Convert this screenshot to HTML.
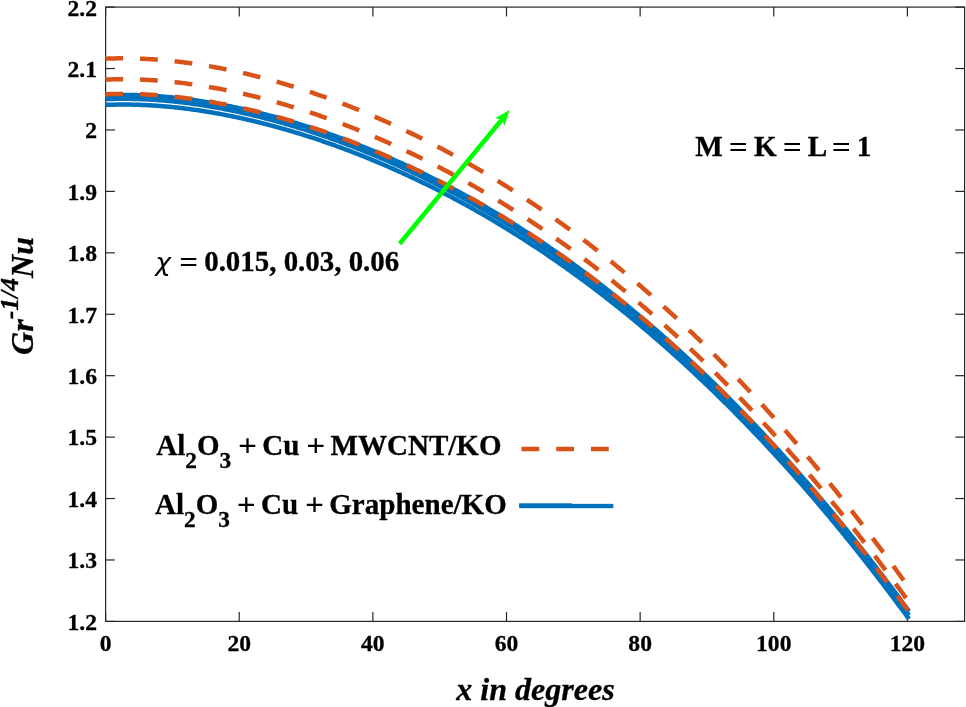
<!DOCTYPE html>
<html><head><meta charset="utf-8"><title>Figure</title>
<style>
html,body{margin:0;padding:0;background:#fff;}
svg{display:block;}
text{font-family:"Liberation Serif",serif;font-weight:bold;fill:#000;stroke:#000;stroke-width:0.3px;}
.tk{font-size:23.6px;}
.lb{font-size:29.17px;}
.ax{font-size:32.1px;font-style:italic;}
.op{fill:none;stroke:none;}
</style></head><body>
<svg width="966" height="707" viewBox="0 0 966 707">
<rect x="0" y="0" width="966" height="707" fill="#ffffff"/>

<g stroke="#262626" stroke-width="1.2" fill="none" shape-rendering="auto">
<rect x="105.6" y="7.1" width="859.0" height="614.3"/>
<line x1="105.60" y1="621.4" x2="105.60" y2="612.1"/>
<line x1="105.60" y1="7.1" x2="105.60" y2="16.4"/>
<line x1="239.23" y1="621.4" x2="239.23" y2="612.1"/>
<line x1="239.23" y1="7.1" x2="239.23" y2="16.4"/>
<line x1="372.87" y1="621.4" x2="372.87" y2="612.1"/>
<line x1="372.87" y1="7.1" x2="372.87" y2="16.4"/>
<line x1="506.50" y1="621.4" x2="506.50" y2="612.1"/>
<line x1="506.50" y1="7.1" x2="506.50" y2="16.4"/>
<line x1="640.14" y1="621.4" x2="640.14" y2="612.1"/>
<line x1="640.14" y1="7.1" x2="640.14" y2="16.4"/>
<line x1="773.77" y1="621.4" x2="773.77" y2="612.1"/>
<line x1="773.77" y1="7.1" x2="773.77" y2="16.4"/>
<line x1="907.40" y1="621.4" x2="907.40" y2="612.1"/>
<line x1="907.40" y1="7.1" x2="907.40" y2="16.4"/>
<line x1="105.6" y1="7.10" x2="114.89999999999999" y2="7.10"/>
<line x1="964.6" y1="7.10" x2="955.3000000000001" y2="7.10"/>
<line x1="105.6" y1="68.53" x2="114.89999999999999" y2="68.53"/>
<line x1="964.6" y1="68.53" x2="955.3000000000001" y2="68.53"/>
<line x1="105.6" y1="129.96" x2="114.89999999999999" y2="129.96"/>
<line x1="964.6" y1="129.96" x2="955.3000000000001" y2="129.96"/>
<line x1="105.6" y1="191.39" x2="114.89999999999999" y2="191.39"/>
<line x1="964.6" y1="191.39" x2="955.3000000000001" y2="191.39"/>
<line x1="105.6" y1="252.82" x2="114.89999999999999" y2="252.82"/>
<line x1="964.6" y1="252.82" x2="955.3000000000001" y2="252.82"/>
<line x1="105.6" y1="314.25" x2="114.89999999999999" y2="314.25"/>
<line x1="964.6" y1="314.25" x2="955.3000000000001" y2="314.25"/>
<line x1="105.6" y1="375.68" x2="114.89999999999999" y2="375.68"/>
<line x1="964.6" y1="375.68" x2="955.3000000000001" y2="375.68"/>
<line x1="105.6" y1="437.11" x2="114.89999999999999" y2="437.11"/>
<line x1="964.6" y1="437.11" x2="955.3000000000001" y2="437.11"/>
<line x1="105.6" y1="498.54" x2="114.89999999999999" y2="498.54"/>
<line x1="964.6" y1="498.54" x2="955.3000000000001" y2="498.54"/>
<line x1="105.6" y1="559.97" x2="114.89999999999999" y2="559.97"/>
<line x1="964.6" y1="559.97" x2="955.3000000000001" y2="559.97"/>
<line x1="105.6" y1="621.40" x2="114.89999999999999" y2="621.40"/>
<line x1="964.6" y1="621.40" x2="955.3000000000001" y2="621.40"/>
</g>
<g fill="none" stroke-linecap="butt" stroke-linejoin="round">
<path d="M105.30,104.93 L106.80,104.87 L108.30,104.81 L109.80,104.76 L111.30,104.72 L112.80,104.68 L114.30,104.64 L115.80,104.61 L117.30,104.59 L118.80,104.57 L120.30,104.56 L121.80,104.55 L123.30,104.54 L124.80,104.54 L126.30,104.55 L127.80,104.56 L129.30,104.58 L130.80,104.60 L132.30,104.63 L133.80,104.66 L135.30,104.70 L136.80,104.74 L138.30,104.78 L139.80,104.83 L141.30,104.89 L142.80,104.95 L144.30,105.02 L145.80,105.09 L147.30,105.16 L148.80,105.24 L150.30,105.32 L151.80,105.41 L153.30,105.50 L154.80,105.60 L156.30,105.70 L157.80,105.81 L159.30,105.92 L160.80,106.04 L162.30,106.16 L163.80,106.28 L165.30,106.41 L166.80,106.55 L168.30,106.68 L169.80,106.82 L171.30,106.97 L172.80,107.12 L174.30,107.28 L175.80,107.44 L177.30,107.60 L178.80,107.77 L180.30,107.94 L181.80,108.11 L183.30,108.29 L184.80,108.48 L186.30,108.67 L187.80,108.86 L189.30,109.06 L190.80,109.26 L192.30,109.46 L193.80,109.67 L195.30,109.88 L196.80,110.10 L198.30,110.32 L199.80,110.54 L201.30,110.77 L202.80,111.00 L204.30,111.24 L205.80,111.48 L207.30,111.72 L208.80,111.97 L210.30,112.22 L211.80,112.48 L213.30,112.74 L214.80,113.00 L216.30,113.27 L217.80,113.54 L219.30,113.81 L220.80,114.09 L222.30,114.37 L223.80,114.66 L225.30,114.95 L226.80,115.24 L228.30,115.54 L229.80,115.84 L231.30,116.14 L232.80,116.45 L234.30,116.76 L235.80,117.08 L237.30,117.40 L238.80,117.72 L240.30,118.04 L241.80,118.37 L243.30,118.71 L244.80,119.04 L246.30,119.38 L247.80,119.73 L249.30,120.07 L250.80,120.43 L252.30,120.78 L253.80,121.14 L255.30,121.50 L256.80,121.86 L258.30,122.23 L259.80,122.60 L261.30,122.98 L262.80,123.36 L264.30,123.74 L265.80,124.12 L267.30,124.51 L268.80,124.90 L270.30,125.30 L271.80,125.70 L273.30,126.10 L274.80,126.51 L276.30,126.92 L277.80,127.33 L279.30,127.74 L280.80,128.16 L282.30,128.59 L283.80,129.01 L285.30,129.44 L286.80,129.87 L288.30,130.31 L289.80,130.75 L291.30,131.19 L292.80,131.64 L294.30,132.09 L295.80,132.54 L297.30,132.99 L298.80,133.45 L300.30,133.92 L301.80,134.38 L303.30,134.85 L304.80,135.32 L306.30,135.80 L307.80,136.28 L309.30,136.76 L310.80,137.25 L312.30,137.73 L313.80,138.23 L315.30,138.72 L316.80,139.22 L318.30,139.72 L319.80,140.23 L321.30,140.73 L322.80,141.25 L324.30,141.76 L325.80,142.28 L327.30,142.80 L328.80,143.32 L330.30,143.85 L331.80,144.38 L333.30,144.92 L334.80,145.45 L336.30,146.00 L337.80,146.54 L339.30,147.09 L340.80,147.64 L342.30,148.19 L343.80,148.75 L345.30,149.31 L346.80,149.87 L348.30,150.44 L349.80,151.01 L351.30,151.58 L352.80,152.16 L354.30,152.73 L355.80,153.32 L357.30,153.90 L358.80,154.49 L360.30,155.08 L361.80,155.68 L363.30,156.28 L364.80,156.88 L366.30,157.48 L367.80,158.09 L369.30,158.70 L370.80,159.32 L372.30,159.94 L373.80,160.56 L375.30,161.18 L376.80,161.81 L378.30,162.44 L379.80,163.08 L381.30,163.71 L382.80,164.35 L384.30,165.00 L385.80,165.65 L387.30,166.30 L388.80,166.95 L390.30,167.61 L391.80,168.27 L393.30,168.93 L394.80,169.60 L396.30,170.27 L397.80,170.94 L399.30,171.62 L400.80,172.29 L402.30,172.98 L403.80,173.66 L405.30,174.35 L406.80,175.05 L408.30,175.74 L409.80,176.44 L411.30,177.14 L412.80,177.85 L414.30,178.56 L415.80,179.27 L417.30,179.99 L418.80,180.71 L420.30,181.43 L421.80,182.15 L423.30,182.88 L424.80,183.61 L426.30,184.35 L427.80,185.09 L429.30,185.83 L430.80,186.58 L432.30,187.32 L433.80,188.08 L435.30,188.83 L436.80,189.59 L438.30,190.35 L439.80,191.12 L441.30,191.89 L442.80,192.66 L444.30,193.43 L445.80,194.21 L447.30,194.99 L448.80,195.78 L450.30,196.57 L451.80,197.36 L453.30,198.16 L454.80,198.96 L456.30,199.76 L457.80,200.56 L459.30,201.37 L460.80,202.18 L462.30,203.00 L463.80,203.82 L465.30,204.64 L466.80,205.47 L468.30,206.30 L469.80,207.13 L471.30,207.97 L472.80,208.81 L474.30,209.65 L475.80,210.50 L477.30,211.35 L478.80,212.20 L480.30,213.06 L481.80,213.92 L483.30,214.78 L484.80,215.65 L486.30,216.52 L487.80,217.39 L489.30,218.27 L490.80,219.15 L492.30,220.04 L493.80,220.93 L495.30,221.82 L496.80,222.71 L498.30,223.61 L499.80,224.51 L501.30,225.42 L502.80,226.33 L504.30,227.24 L505.80,228.16 L507.30,229.08 L508.80,230.00 L510.30,230.93 L511.80,231.86 L513.30,232.79 L514.80,233.73 L516.30,234.67 L517.80,235.62 L519.30,236.57 L520.80,237.52 L522.30,238.47 L523.80,239.43 L525.30,240.40 L526.80,241.36 L528.30,242.33 L529.80,243.31 L531.30,244.28 L532.80,245.26 L534.30,246.25 L535.80,247.24 L537.30,248.23 L538.80,249.22 L540.30,250.22 L541.80,251.22 L543.30,252.23 L544.80,253.24 L546.30,254.25 L547.80,255.27 L549.30,256.29 L550.80,257.32 L552.30,258.35 L553.80,259.38 L555.30,260.41 L556.80,261.45 L558.30,262.50 L559.80,263.54 L561.30,264.59 L562.80,265.65 L564.30,266.71 L565.80,267.77 L567.30,268.83 L568.80,269.90 L570.30,270.98 L571.80,272.05 L573.30,273.13 L574.80,274.22 L576.30,275.31 L577.80,276.40 L579.30,277.49 L580.80,278.59 L582.30,279.70 L583.80,280.80 L585.30,281.91 L586.80,283.03 L588.30,284.15 L589.80,285.27 L591.30,286.39 L592.80,287.52 L594.30,288.66 L595.80,289.80 L597.30,290.94 L598.80,292.08 L600.30,293.23 L601.80,294.38 L603.30,295.54 L604.80,296.70 L606.30,297.87 L607.80,299.03 L609.30,300.21 L610.80,301.38 L612.30,302.56 L613.80,303.75 L615.30,304.94 L616.80,306.13 L618.30,307.32 L619.80,308.52 L621.30,309.73 L622.80,310.93 L624.30,312.14 L625.80,313.36 L627.30,314.58 L628.80,315.80 L630.30,317.03 L631.80,318.26 L633.30,319.50 L634.80,320.74 L636.30,321.98 L637.80,323.23 L639.30,324.48 L640.80,325.73 L642.30,326.99 L643.80,328.25 L645.30,329.52 L646.80,330.79 L648.30,332.07 L649.80,333.35 L651.30,334.63 L652.80,335.92 L654.30,337.21 L655.80,338.50 L657.30,339.80 L658.80,341.10 L660.30,342.41 L661.80,343.72 L663.30,345.04 L664.80,346.36 L666.30,347.68 L667.80,349.01 L669.30,350.34 L670.80,351.68 L672.30,353.02 L673.80,354.36 L675.30,355.71 L676.80,357.06 L678.30,358.42 L679.80,359.78 L681.30,361.14 L682.80,362.51 L684.30,363.88 L685.80,365.26 L687.30,366.64 L688.80,368.03 L690.30,369.42 L691.80,370.81 L693.30,372.21 L694.80,373.61 L696.30,375.01 L697.80,376.42 L699.30,377.84 L700.80,379.26 L702.30,380.68 L703.80,382.11 L705.30,383.54 L706.80,384.97 L708.30,386.41 L709.80,387.86 L711.30,389.30 L712.80,390.76 L714.30,392.21 L715.80,393.67 L717.30,395.14 L718.80,396.61 L720.30,398.08 L721.80,399.56 L723.30,401.04 L724.80,402.53 L726.30,404.02 L727.80,405.51 L729.30,407.01 L730.80,408.51 L732.30,410.02 L733.80,411.53 L735.30,413.05 L736.80,414.57 L738.30,416.09 L739.80,417.62 L741.30,419.15 L742.80,420.69 L744.30,422.23 L745.80,423.78 L747.30,425.33 L748.80,426.88 L750.30,428.44 L751.80,430.01 L753.30,431.57 L754.80,433.15 L756.30,434.72 L757.80,436.30 L759.30,437.89 L760.80,439.48 L762.30,441.07 L763.80,442.67 L765.30,444.27 L766.80,445.88 L768.30,447.49 L769.80,449.11 L771.30,450.73 L772.80,452.35 L774.30,453.98 L775.80,455.61 L777.30,457.25 L778.80,458.89 L780.30,460.54 L781.80,462.19 L783.30,463.85 L784.80,465.51 L786.30,467.17 L787.80,468.84 L789.30,470.51 L790.80,472.19 L792.30,473.88 L793.80,475.56 L795.30,477.25 L796.80,478.95 L798.30,480.65 L799.80,482.35 L801.30,484.06 L802.80,485.78 L804.30,487.50 L805.80,489.22 L807.30,490.95 L808.80,492.68 L810.30,494.41 L811.80,496.16 L813.30,497.90 L814.80,499.65 L816.30,501.41 L817.80,503.17 L819.30,504.93 L820.80,506.70 L822.30,508.47 L823.80,510.25 L825.30,512.03 L826.80,513.82 L828.30,515.61 L829.80,517.40 L831.30,519.21 L832.80,521.01 L834.30,522.82 L835.80,524.64 L837.30,526.45 L838.80,528.28 L840.30,530.11 L841.80,531.94 L843.30,533.78 L844.80,535.62 L846.30,537.47 L847.80,539.32 L849.30,541.18 L850.80,543.04 L852.30,544.90 L853.80,546.77 L855.30,548.65 L856.80,550.53 L858.30,552.41 L859.80,554.30 L861.30,556.20 L862.80,558.10 L864.30,560.00 L865.80,561.91 L867.30,563.82 L868.80,565.74 L870.30,567.66 L871.80,569.59 L873.30,571.52 L874.80,573.46 L876.30,575.40 L877.80,577.35 L879.30,579.30 L880.80,581.26 L882.30,583.22 L883.80,585.19 L885.30,587.16 L886.80,589.14 L888.30,591.12 L889.80,593.10 L891.30,595.09 L892.80,597.09 L894.30,599.09 L895.80,601.10 L897.30,603.11 L898.80,605.12 L900.30,607.14 L901.80,609.17 L903.30,611.20 L904.80,613.23 L906.30,615.27 L907.80,617.32 L909.00,618.96" stroke="#0072BD" stroke-width="4.5"/>
<path d="M105.30,99.18 L106.80,99.12 L108.30,99.06 L109.80,99.01 L111.30,98.97 L112.80,98.93 L114.30,98.89 L115.80,98.86 L117.30,98.84 L118.80,98.82 L120.30,98.80 L121.80,98.79 L123.30,98.79 L124.80,98.79 L126.30,98.80 L127.80,98.81 L129.30,98.83 L130.80,98.85 L132.30,98.88 L133.80,98.91 L135.30,98.94 L136.80,98.99 L138.30,99.03 L139.80,99.08 L141.30,99.14 L142.80,99.20 L144.30,99.27 L145.80,99.34 L147.30,99.41 L148.80,99.49 L150.30,99.57 L151.80,99.66 L153.30,99.76 L154.80,99.85 L156.30,99.96 L157.80,100.06 L159.30,100.18 L160.80,100.29 L162.30,100.41 L163.80,100.54 L165.30,100.67 L166.80,100.80 L168.30,100.94 L169.80,101.08 L171.30,101.23 L172.80,101.38 L174.30,101.54 L175.80,101.70 L177.30,101.86 L178.80,102.03 L180.30,102.20 L181.80,102.38 L183.30,102.56 L184.80,102.74 L186.30,102.93 L187.80,103.12 L189.30,103.32 L190.80,103.52 L192.30,103.73 L193.80,103.94 L195.30,104.15 L196.80,104.37 L198.30,104.59 L199.80,104.82 L201.30,105.04 L202.80,105.28 L204.30,105.52 L205.80,105.76 L207.30,106.00 L208.80,106.25 L210.30,106.50 L211.80,106.76 L213.30,107.02 L214.80,107.28 L216.30,107.55 L217.80,107.82 L219.30,108.10 L220.80,108.38 L222.30,108.66 L223.80,108.95 L225.30,109.24 L226.80,109.53 L228.30,109.83 L229.80,110.13 L231.30,110.44 L232.80,110.75 L234.30,111.06 L235.80,111.38 L237.30,111.70 L238.80,112.02 L240.30,112.35 L241.80,112.68 L243.30,113.01 L244.80,113.35 L246.30,113.69 L247.80,114.04 L249.30,114.38 L250.80,114.74 L252.30,115.09 L253.80,115.45 L255.30,115.81 L256.80,116.18 L258.30,116.55 L259.80,116.92 L261.30,117.30 L262.80,117.68 L264.30,118.06 L265.80,118.45 L267.30,118.84 L268.80,119.23 L270.30,119.63 L271.80,120.03 L273.30,120.43 L274.80,120.84 L276.30,121.25 L277.80,121.67 L279.30,122.08 L280.80,122.50 L282.30,122.93 L283.80,123.36 L285.30,123.79 L286.80,124.22 L288.30,124.66 L289.80,125.10 L291.30,125.54 L292.80,125.99 L294.30,126.44 L295.80,126.90 L297.30,127.36 L298.80,127.82 L300.30,128.28 L301.80,128.75 L303.30,129.22 L304.80,129.69 L306.30,130.17 L307.80,130.65 L309.30,131.14 L310.80,131.62 L312.30,132.11 L313.80,132.61 L315.30,133.10 L316.80,133.61 L318.30,134.11 L319.80,134.62 L321.30,135.13 L322.80,135.64 L324.30,136.16 L325.80,136.68 L327.30,137.20 L328.80,137.73 L330.30,138.26 L331.80,138.79 L333.30,139.32 L334.80,139.86 L336.30,140.41 L337.80,140.95 L339.30,141.50 L340.80,142.05 L342.30,142.61 L343.80,143.17 L345.30,143.73 L346.80,144.30 L348.30,144.87 L349.80,145.44 L351.30,146.01 L352.80,146.59 L354.30,147.17 L355.80,147.76 L357.30,148.35 L358.80,148.94 L360.30,149.53 L361.80,150.13 L363.30,150.73 L364.80,151.33 L366.30,151.94 L367.80,152.55 L369.30,153.17 L370.80,153.78 L372.30,154.40 L373.80,155.03 L375.30,155.65 L376.80,156.28 L378.30,156.92 L379.80,157.56 L381.30,158.19 L382.80,158.84 L384.30,159.48 L385.80,160.13 L387.30,160.79 L388.80,161.44 L390.30,162.10 L391.80,162.77 L393.30,163.43 L394.80,164.10 L396.30,164.77 L397.80,165.45 L399.30,166.13 L400.80,166.81 L402.30,167.50 L403.80,168.18 L405.30,168.88 L406.80,169.57 L408.30,170.27 L409.80,170.97 L411.30,171.68 L412.80,172.39 L414.30,173.10 L415.80,173.81 L417.30,174.53 L418.80,175.25 L420.30,175.98 L421.80,176.71 L423.30,177.44 L424.80,178.17 L426.30,178.91 L427.80,179.65 L429.30,180.40 L430.80,181.15 L432.30,181.90 L433.80,182.65 L435.30,183.41 L436.80,184.17 L438.30,184.94 L439.80,185.71 L441.30,186.48 L442.80,187.25 L444.30,188.03 L445.80,188.81 L447.30,189.60 L448.80,190.39 L450.30,191.18 L451.80,191.97 L453.30,192.77 L454.80,193.58 L456.30,194.38 L457.80,195.19 L459.30,196.00 L460.80,196.82 L462.30,197.64 L463.80,198.46 L465.30,199.29 L466.80,200.11 L468.30,200.95 L469.80,201.78 L471.30,202.62 L472.80,203.47 L474.30,204.31 L475.80,205.16 L477.30,206.02 L478.80,206.87 L480.30,207.73 L481.80,208.60 L483.30,209.46 L484.80,210.34 L486.30,211.21 L487.80,212.09 L489.30,212.97 L490.80,213.85 L492.30,214.74 L493.80,215.63 L495.30,216.53 L496.80,217.43 L498.30,218.33 L499.80,219.24 L501.30,220.14 L502.80,221.06 L504.30,221.97 L505.80,222.89 L507.30,223.82 L508.80,224.74 L510.30,225.68 L511.80,226.61 L513.30,227.55 L514.80,228.49 L516.30,229.43 L517.80,230.38 L519.30,231.33 L520.80,232.29 L522.30,233.25 L523.80,234.21 L525.30,235.18 L526.80,236.15 L528.30,237.12 L529.80,238.10 L531.30,239.08 L532.80,240.07 L534.30,241.05 L535.80,242.05 L537.30,243.04 L538.80,244.04 L540.30,245.04 L541.80,246.05 L543.30,247.06 L544.80,248.07 L546.30,249.09 L547.80,250.11 L549.30,251.14 L550.80,252.17 L552.30,253.20 L553.80,254.24 L555.30,255.28 L556.80,256.32 L558.30,257.37 L559.80,258.42 L561.30,259.47 L562.80,260.53 L564.30,261.59 L565.80,262.66 L567.30,263.73 L568.80,264.80 L570.30,265.88 L571.80,266.96 L573.30,268.04 L574.80,269.13 L576.30,270.23 L577.80,271.32 L579.30,272.42 L580.80,273.53 L582.30,274.63 L583.80,275.74 L585.30,276.86 L586.80,277.98 L588.30,279.10 L589.80,280.23 L591.30,281.36 L592.80,282.49 L594.30,283.63 L595.80,284.77 L597.30,285.92 L598.80,287.07 L600.30,288.22 L601.80,289.38 L603.30,290.54 L604.80,291.71 L606.30,292.87 L607.80,294.05 L609.30,295.22 L610.80,296.41 L612.30,297.59 L613.80,298.78 L615.30,299.97 L616.80,301.17 L618.30,302.37 L619.80,303.57 L621.30,304.78 L622.80,305.99 L624.30,307.21 L625.80,308.43 L627.30,309.65 L628.80,310.88 L630.30,312.11 L631.80,313.35 L633.30,314.59 L634.80,315.83 L636.30,317.08 L637.80,318.33 L639.30,319.59 L640.80,320.85 L642.30,322.11 L643.80,323.38 L645.30,324.65 L646.80,325.93 L648.30,327.21 L649.80,328.49 L651.30,329.78 L652.80,331.07 L654.30,332.37 L655.80,333.67 L657.30,334.97 L658.80,336.28 L660.30,337.60 L661.80,338.91 L663.30,340.23 L664.80,341.56 L666.30,342.89 L667.80,344.22 L669.30,345.56 L670.80,346.90 L672.30,348.24 L673.80,349.59 L675.30,350.94 L676.80,352.30 L678.30,353.66 L679.80,355.03 L681.30,356.40 L682.80,357.77 L684.30,359.15 L685.80,360.53 L687.30,361.92 L688.80,363.31 L690.30,364.71 L691.80,366.10 L693.30,367.51 L694.80,368.91 L696.30,370.33 L697.80,371.74 L699.30,373.16 L700.80,374.59 L702.30,376.01 L703.80,377.45 L705.30,378.88 L706.80,380.32 L708.30,381.77 L709.80,383.22 L711.30,384.67 L712.80,386.13 L714.30,387.59 L715.80,389.06 L717.30,390.53 L718.80,392.00 L720.30,393.48 L721.80,394.97 L723.30,396.45 L724.80,397.94 L726.30,399.44 L727.80,400.94 L729.30,402.45 L730.80,403.95 L732.30,405.47 L733.80,406.99 L735.30,408.51 L736.80,410.03 L738.30,411.56 L739.80,413.10 L741.30,414.64 L742.80,416.18 L744.30,417.73 L745.80,419.28 L747.30,420.84 L748.80,422.40 L750.30,423.96 L751.80,425.53 L753.30,427.11 L754.80,428.69 L756.30,430.27 L757.80,431.85 L759.30,433.45 L760.80,435.04 L762.30,436.64 L763.80,438.25 L765.30,439.86 L766.80,441.47 L768.30,443.09 L769.80,444.71 L771.30,446.34 L772.80,447.97 L774.30,449.60 L775.80,451.24 L777.30,452.89 L778.80,454.53 L780.30,456.19 L781.80,457.85 L783.30,459.51 L784.80,461.17 L786.30,462.85 L787.80,464.52 L789.30,466.20 L790.80,467.89 L792.30,469.57 L793.80,471.27 L795.30,472.97 L796.80,474.67 L798.30,476.38 L799.80,478.09 L801.30,479.80 L802.80,481.52 L804.30,483.25 L805.80,484.98 L807.30,486.71 L808.80,488.45 L810.30,490.19 L811.80,491.94 L813.30,493.69 L814.80,495.45 L816.30,497.21 L817.80,498.98 L819.30,500.75 L820.80,502.53 L822.30,504.31 L823.80,506.09 L825.30,507.88 L826.80,509.67 L828.30,511.47 L829.80,513.27 L831.30,515.08 L832.80,516.89 L834.30,518.71 L835.80,520.53 L837.30,522.36 L838.80,524.19 L840.30,526.03 L841.80,527.87 L843.30,529.71 L844.80,531.56 L846.30,533.42 L847.80,535.27 L849.30,537.14 L850.80,539.01 L852.30,540.88 L853.80,542.76 L855.30,544.64 L856.80,546.53 L858.30,548.42 L859.80,550.32 L861.30,552.22 L862.80,554.13 L864.30,556.04 L865.80,557.95 L867.30,559.87 L868.80,561.80 L870.30,563.73 L871.80,565.67 L873.30,567.61 L874.80,569.55 L876.30,571.50 L877.80,573.46 L879.30,575.42 L880.80,577.38 L882.30,579.35 L883.80,581.32 L885.30,583.30 L886.80,585.29 L888.30,587.28 L889.80,589.27 L891.30,591.27 L892.80,593.27 L894.30,595.28 L895.80,597.29 L897.30,599.31 L898.80,601.34 L900.30,603.36 L901.80,605.40 L903.30,607.44 L904.80,609.48 L906.30,611.53 L907.80,613.58 L909.00,615.23" stroke="#0072BD" stroke-width="4.5"/>
<path d="M105.30,95.28 L106.80,95.22 L108.30,95.16 L109.80,95.11 L111.30,95.07 L112.80,95.03 L114.30,94.99 L115.80,94.96 L117.30,94.94 L118.80,94.92 L120.30,94.90 L121.80,94.89 L123.30,94.89 L124.80,94.89 L126.30,94.90 L127.80,94.91 L129.30,94.93 L130.80,94.95 L132.30,94.98 L133.80,95.01 L135.30,95.04 L136.80,95.09 L138.30,95.13 L139.80,95.18 L141.30,95.24 L142.80,95.30 L144.30,95.37 L145.80,95.44 L147.30,95.51 L148.80,95.59 L150.30,95.67 L151.80,95.76 L153.30,95.86 L154.80,95.95 L156.30,96.06 L157.80,96.16 L159.30,96.28 L160.80,96.39 L162.30,96.51 L163.80,96.64 L165.30,96.77 L166.80,96.90 L168.30,97.04 L169.80,97.18 L171.30,97.33 L172.80,97.48 L174.30,97.64 L175.80,97.80 L177.30,97.96 L178.80,98.13 L180.30,98.30 L181.80,98.48 L183.30,98.66 L184.80,98.84 L186.30,99.03 L187.80,99.22 L189.30,99.42 L190.80,99.62 L192.30,99.83 L193.80,100.04 L195.30,100.25 L196.80,100.47 L198.30,100.69 L199.80,100.92 L201.30,101.14 L202.80,101.38 L204.30,101.62 L205.80,101.86 L207.30,102.10 L208.80,102.35 L210.30,102.60 L211.80,102.86 L213.30,103.12 L214.80,103.38 L216.30,103.65 L217.80,103.92 L219.30,104.20 L220.80,104.48 L222.30,104.76 L223.80,105.05 L225.30,105.34 L226.80,105.63 L228.30,105.93 L229.80,106.23 L231.30,106.54 L232.80,106.85 L234.30,107.16 L235.80,107.48 L237.30,107.80 L238.80,108.12 L240.30,108.45 L241.80,108.78 L243.30,109.11 L244.80,109.45 L246.30,109.79 L247.80,110.14 L249.30,110.48 L250.80,110.84 L252.30,111.19 L253.80,111.55 L255.30,111.91 L256.80,112.28 L258.30,112.65 L259.80,113.02 L261.30,113.40 L262.80,113.78 L264.30,114.16 L265.80,114.55 L267.30,114.94 L268.80,115.33 L270.30,115.73 L271.80,116.13 L273.30,116.53 L274.80,116.94 L276.30,117.35 L277.80,117.77 L279.30,118.18 L280.80,118.60 L282.30,119.03 L283.80,119.46 L285.30,119.89 L286.80,120.32 L288.30,120.76 L289.80,121.20 L291.30,121.64 L292.80,122.09 L294.30,122.54 L295.80,123.00 L297.30,123.46 L298.80,123.92 L300.30,124.38 L301.80,124.85 L303.30,125.32 L304.80,125.79 L306.30,126.27 L307.80,126.75 L309.30,127.24 L310.80,127.72 L312.30,128.21 L313.80,128.71 L315.30,129.20 L316.80,129.71 L318.30,130.21 L319.80,130.72 L321.30,131.23 L322.80,131.74 L324.30,132.26 L325.80,132.78 L327.30,133.30 L328.80,133.83 L330.30,134.36 L331.80,134.89 L333.30,135.42 L334.80,135.96 L336.30,136.51 L337.80,137.05 L339.30,137.60 L340.80,138.15 L342.30,138.71 L343.80,139.27 L345.30,139.83 L346.80,140.40 L348.30,140.97 L349.80,141.54 L351.30,142.11 L352.80,142.69 L354.30,143.27 L355.80,143.86 L357.30,144.45 L358.80,145.04 L360.30,145.63 L361.80,146.23 L363.30,146.83 L364.80,147.43 L366.30,148.04 L367.80,148.65 L369.30,149.27 L370.80,149.88 L372.30,150.50 L373.80,151.13 L375.30,151.75 L376.80,152.38 L378.30,153.02 L379.80,153.66 L381.30,154.29 L382.80,154.94 L384.30,155.58 L385.80,156.23 L387.30,156.89 L388.80,157.54 L390.30,158.20 L391.80,158.87 L393.30,159.53 L394.80,160.20 L396.30,160.87 L397.80,161.55 L399.30,162.23 L400.80,162.91 L402.30,163.60 L403.80,164.28 L405.30,164.98 L406.80,165.67 L408.30,166.37 L409.80,167.07 L411.30,167.78 L412.80,168.49 L414.30,169.20 L415.80,169.91 L417.30,170.63 L418.80,171.35 L420.30,172.08 L421.80,172.81 L423.30,173.54 L424.80,174.27 L426.30,175.01 L427.80,175.75 L429.30,176.50 L430.80,177.25 L432.30,178.00 L433.80,178.75 L435.30,179.51 L436.80,180.27 L438.30,181.04 L439.80,181.81 L441.30,182.58 L442.80,183.35 L444.30,184.13 L445.80,184.91 L447.30,185.70 L448.80,186.49 L450.30,187.28 L451.80,188.07 L453.30,188.87 L454.80,189.68 L456.30,190.48 L457.80,191.29 L459.30,192.10 L460.80,192.92 L462.30,193.74 L463.80,194.56 L465.30,195.39 L466.80,196.21 L468.30,197.05 L469.80,197.88 L471.30,198.72 L472.80,199.57 L474.30,200.41 L475.80,201.26 L477.30,202.12 L478.80,202.97 L480.30,203.83 L481.80,204.70 L483.30,205.56 L484.80,206.44 L486.30,207.31 L487.80,208.19 L489.30,209.07 L490.80,209.95 L492.30,210.84 L493.80,211.73 L495.30,212.63 L496.80,213.53 L498.30,214.43 L499.80,215.34 L501.30,216.24 L502.80,217.16 L504.30,218.07 L505.80,218.99 L507.30,219.92 L508.80,220.84 L510.30,221.78 L511.80,222.71 L513.30,223.65 L514.80,224.59 L516.30,225.53 L517.80,226.48 L519.30,227.43 L520.80,228.39 L522.30,229.35 L523.80,230.31 L525.30,231.28 L526.80,232.25 L528.30,233.22 L529.80,234.20 L531.30,235.18 L532.80,236.17 L534.30,237.15 L535.80,238.15 L537.30,239.14 L538.80,240.14 L540.30,241.14 L541.80,242.15 L543.30,243.16 L544.80,244.17 L546.30,245.19 L547.80,246.21 L549.30,247.24 L550.80,248.27 L552.30,249.30 L553.80,250.34 L555.30,251.38 L556.80,252.42 L558.30,253.47 L559.80,254.52 L561.30,255.57 L562.80,256.63 L564.30,257.69 L565.80,258.76 L567.30,259.83 L568.80,260.90 L570.30,261.98 L571.80,263.06 L573.30,264.14 L574.80,265.23 L576.30,266.33 L577.80,267.42 L579.30,268.52 L580.80,269.63 L582.30,270.73 L583.80,271.84 L585.30,272.96 L586.80,274.08 L588.30,275.20 L589.80,276.33 L591.30,277.46 L592.80,278.59 L594.30,279.73 L595.80,280.87 L597.30,282.02 L598.80,283.17 L600.30,284.32 L601.80,285.48 L603.30,286.64 L604.80,287.81 L606.30,288.97 L607.80,290.15 L609.30,291.32 L610.80,292.51 L612.30,293.69 L613.80,294.88 L615.30,296.07 L616.80,297.27 L618.30,298.47 L619.80,299.67 L621.30,300.88 L622.80,302.09 L624.30,303.31 L625.80,304.53 L627.30,305.75 L628.80,306.98 L630.30,308.21 L631.80,309.45 L633.30,310.69 L634.80,311.93 L636.30,313.18 L637.80,314.43 L639.30,315.69 L640.80,316.95 L642.30,318.21 L643.80,319.48 L645.30,320.75 L646.80,322.03 L648.30,323.31 L649.80,324.59 L651.30,325.88 L652.80,327.17 L654.30,328.47 L655.80,329.77 L657.30,331.07 L658.80,332.38 L660.30,333.70 L661.80,335.01 L663.30,336.33 L664.80,337.66 L666.30,338.99 L667.80,340.32 L669.30,341.66 L670.80,343.00 L672.30,344.34 L673.80,345.69 L675.30,347.04 L676.80,348.40 L678.30,349.76 L679.80,351.13 L681.30,352.50 L682.80,353.87 L684.30,355.25 L685.80,356.63 L687.30,358.02 L688.80,359.41 L690.30,360.81 L691.80,362.20 L693.30,363.61 L694.80,365.01 L696.30,366.43 L697.80,367.84 L699.30,369.26 L700.80,370.69 L702.30,372.11 L703.80,373.55 L705.30,374.98 L706.80,376.42 L708.30,377.87 L709.80,379.32 L711.30,380.77 L712.80,382.23 L714.30,383.69 L715.80,385.16 L717.30,386.63 L718.80,388.10 L720.30,389.58 L721.80,391.07 L723.30,392.55 L724.80,394.04 L726.30,395.54 L727.80,397.04 L729.30,398.55 L730.80,400.05 L732.30,401.57 L733.80,403.09 L735.30,404.61 L736.80,406.13 L738.30,407.66 L739.80,409.20 L741.30,410.74 L742.80,412.28 L744.30,413.83 L745.80,415.38 L747.30,416.94 L748.80,418.50 L750.30,420.06 L751.80,421.63 L753.30,423.21 L754.80,424.79 L756.30,426.37 L757.80,427.95 L759.30,429.55 L760.80,431.14 L762.30,432.74 L763.80,434.35 L765.30,435.96 L766.80,437.57 L768.30,439.19 L769.80,440.81 L771.30,442.44 L772.80,444.07 L774.30,445.70 L775.80,447.34 L777.30,448.99 L778.80,450.63 L780.30,452.29 L781.80,453.95 L783.30,455.61 L784.80,457.27 L786.30,458.95 L787.80,460.62 L789.30,462.30 L790.80,463.99 L792.30,465.67 L793.80,467.37 L795.30,469.07 L796.80,470.77 L798.30,472.48 L799.80,474.19 L801.30,475.90 L802.80,477.62 L804.30,479.35 L805.80,481.08 L807.30,482.81 L808.80,484.55 L810.30,486.29 L811.80,488.04 L813.30,489.79 L814.80,491.55 L816.30,493.31 L817.80,495.08 L819.30,496.85 L820.80,498.63 L822.30,500.41 L823.80,502.19 L825.30,503.98 L826.80,505.77 L828.30,507.57 L829.80,509.37 L831.30,511.18 L832.80,512.99 L834.30,514.81 L835.80,516.63 L837.30,518.46 L838.80,520.29 L840.30,522.13 L841.80,523.97 L843.30,525.81 L844.80,527.66 L846.30,529.52 L847.80,531.37 L849.30,533.24 L850.80,535.11 L852.30,536.98 L853.80,538.86 L855.30,540.74 L856.80,542.63 L858.30,544.52 L859.80,546.42 L861.30,548.32 L862.80,550.23 L864.30,552.14 L865.80,554.05 L867.30,555.97 L868.80,557.90 L870.30,559.83 L871.80,561.77 L873.30,563.71 L874.80,565.65 L876.30,567.60 L877.80,569.56 L879.30,571.52 L880.80,573.48 L882.30,575.45 L883.80,577.42 L885.30,579.40 L886.80,581.39 L888.30,583.38 L889.80,585.37 L891.30,587.37 L892.80,589.37 L894.30,591.38 L895.80,593.39 L897.30,595.41 L898.80,597.44 L900.30,599.46 L901.80,601.50 L903.30,603.54 L904.80,605.58 L906.30,607.63 L907.80,609.68 L909.00,611.33" stroke="#0072BD" stroke-width="4.5"/>
<path d="M105.30,94.28 L106.80,94.22 L108.30,94.17 L109.80,94.12 L111.30,94.08 L112.80,94.04 L114.30,94.01 L115.80,93.98 L117.30,93.96 L118.80,93.94 L120.30,93.93 L121.80,93.92 L123.30,93.92 L124.80,93.93 L126.30,93.94 L127.80,93.95 L129.30,93.97 L130.80,93.99 L132.30,94.02 L133.80,94.06 L135.30,94.10 L136.80,94.14 L138.30,94.19 L139.80,94.24 L141.30,94.30 L142.80,94.36 L144.30,94.43 L145.80,94.51 L147.30,94.58 L148.80,94.67 L150.30,94.75 L151.80,94.84 L153.30,94.94 L154.80,95.04 L156.30,95.15 L157.80,95.26 L159.30,95.37 L160.80,95.49 L162.30,95.61 L163.80,95.74 L165.30,95.87 L166.80,96.01 L168.30,96.15 L169.80,96.29 L171.30,96.44 L172.80,96.60 L174.30,96.76 L175.80,96.92 L177.30,97.08 L178.80,97.26 L180.30,97.43 L181.80,97.61 L183.30,97.79 L184.80,97.98 L186.30,98.17 L187.80,98.37 L189.30,98.57 L190.80,98.77 L192.30,98.98 L193.80,99.19 L195.30,99.41 L196.80,99.63 L198.30,99.85 L199.80,100.08 L201.30,100.31 L202.80,100.55 L204.30,100.79 L205.80,101.03 L207.30,101.28 L208.80,101.53 L210.30,101.79 L211.80,102.05 L213.30,102.31 L214.80,102.58 L216.30,102.85 L217.80,103.12 L219.30,103.40 L220.80,103.68 L222.30,103.97 L223.80,104.26 L225.30,104.55 L226.80,104.85 L228.30,105.15 L229.80,105.45 L231.30,105.76 L232.80,106.07 L234.30,106.38 L235.80,106.70 L237.30,107.03 L238.80,107.35 L240.30,107.68 L241.80,108.02 L243.30,108.35 L244.80,108.69 L246.30,109.04 L247.80,109.38 L249.30,109.74 L250.80,110.09 L252.30,110.45 L253.80,110.81 L255.30,111.17 L256.80,111.54 L258.30,111.92 L259.80,112.29 L261.30,112.67 L262.80,113.05 L264.30,113.44 L265.80,113.83 L267.30,114.22 L268.80,114.62 L270.30,115.02 L271.80,115.42 L273.30,115.83 L274.80,116.24 L276.30,116.65 L277.80,117.07 L279.30,117.49 L280.80,117.91 L282.30,118.34 L283.80,118.77 L285.30,119.20 L286.80,119.64 L288.30,120.08 L289.80,120.52 L291.30,120.97 L292.80,121.42 L294.30,121.87 L295.80,122.33 L297.30,122.79 L298.80,123.25 L300.30,123.72 L301.80,124.19 L303.30,124.66 L304.80,125.14 L306.30,125.62 L307.80,126.10 L309.30,126.59 L310.80,127.08 L312.30,127.57 L313.80,128.07 L315.30,128.57 L316.80,129.07 L318.30,129.58 L319.80,130.09 L321.30,130.60 L322.80,131.12 L324.30,131.64 L325.80,132.16 L327.30,132.69 L328.80,133.22 L330.30,133.75 L331.80,134.28 L333.30,134.82 L334.80,135.36 L336.30,135.91 L337.80,136.46 L339.30,137.01 L340.80,137.57 L342.30,138.12 L343.80,138.69 L345.30,139.25 L346.80,139.82 L348.30,140.39 L349.80,140.96 L351.30,141.54 L352.80,142.12 L354.30,142.71 L355.80,143.29 L357.30,143.89 L358.80,144.48 L360.30,145.08 L361.80,145.68 L363.30,146.28 L364.80,146.89 L366.30,147.50 L367.80,148.11 L369.30,148.73 L370.80,149.35 L372.30,149.97 L373.80,150.60 L375.30,151.23 L376.80,151.86 L378.30,152.49 L379.80,153.13 L381.30,153.78 L382.80,154.42 L384.30,155.07 L385.80,155.72 L387.30,156.38 L388.80,157.04 L390.30,157.70 L391.80,158.37 L393.30,159.03 L394.80,159.71 L396.30,160.38 L397.80,161.06 L399.30,161.74 L400.80,162.43 L402.30,163.11 L403.80,163.81 L405.30,164.50 L406.80,165.20 L408.30,165.90 L409.80,166.60 L411.30,167.31 L412.80,168.02 L414.30,168.74 L415.80,169.46 L417.30,170.18 L418.80,170.90 L420.30,171.63 L421.80,172.36 L423.30,173.09 L424.80,173.83 L426.30,174.57 L427.80,175.32 L429.30,176.06 L430.80,176.81 L432.30,177.57 L433.80,178.33 L435.30,179.09 L436.80,179.85 L438.30,180.62 L439.80,181.39 L441.30,182.16 L442.80,182.94 L444.30,183.72 L445.80,184.51 L447.30,185.30 L448.80,186.09 L450.30,186.88 L451.80,187.68 L453.30,188.48 L454.80,189.29 L456.30,190.09 L457.80,190.90 L459.30,191.72 L460.80,192.54 L462.30,193.36 L463.80,194.18 L465.30,195.01 L466.80,195.85 L468.30,196.68 L469.80,197.52 L471.30,198.36 L472.80,199.21 L474.30,200.06 L475.80,200.91 L477.30,201.77 L478.80,202.62 L480.30,203.49 L481.80,204.35 L483.30,205.22 L484.80,206.10 L486.30,206.97 L487.80,207.85 L489.30,208.74 L490.80,209.63 L492.30,210.52 L493.80,211.41 L495.30,212.31 L496.80,213.21 L498.30,214.12 L499.80,215.02 L501.30,215.94 L502.80,216.85 L504.30,217.77 L505.80,218.69 L507.30,219.62 L508.80,220.55 L510.30,221.48 L511.80,222.42 L513.30,223.36 L514.80,224.30 L516.30,225.25 L517.80,226.20 L519.30,227.16 L520.80,228.12 L522.30,229.08 L523.80,230.04 L525.30,231.01 L526.80,231.98 L528.30,232.96 L529.80,233.94 L531.30,234.92 L532.80,235.91 L534.30,236.90 L535.80,237.90 L537.30,238.90 L538.80,239.90 L540.30,240.90 L541.80,241.91 L543.30,242.92 L544.80,243.94 L546.30,244.96 L547.80,245.99 L549.30,247.01 L550.80,248.04 L552.30,249.08 L553.80,250.12 L555.30,251.16 L556.80,252.21 L558.30,253.26 L559.80,254.31 L561.30,255.37 L562.80,256.43 L564.30,257.49 L565.80,258.56 L567.30,259.63 L568.80,260.71 L570.30,261.79 L571.80,262.87 L573.30,263.96 L574.80,265.05 L576.30,266.15 L577.80,267.25 L579.30,268.35 L580.80,269.45 L582.30,270.56 L583.80,271.68 L585.30,272.80 L586.80,273.92 L588.30,275.04 L589.80,276.17 L591.30,277.31 L592.80,278.44 L594.30,279.58 L595.80,280.73 L597.30,281.88 L598.80,283.03 L600.30,284.19 L601.80,285.35 L603.30,286.51 L604.80,287.68 L606.30,288.85 L607.80,290.02 L609.30,291.20 L610.80,292.39 L612.30,293.58 L613.80,294.77 L615.30,295.96 L616.80,297.16 L618.30,298.36 L619.80,299.57 L621.30,300.78 L622.80,302.00 L624.30,303.22 L625.80,304.44 L627.30,305.66 L628.80,306.90 L630.30,308.13 L631.80,309.37 L633.30,310.61 L634.80,311.86 L636.30,313.11 L637.80,314.36 L639.30,315.62 L640.80,316.88 L642.30,318.15 L643.80,319.42 L645.30,320.70 L646.80,321.97 L648.30,323.26 L649.80,324.54 L651.30,325.83 L652.80,327.13 L654.30,328.43 L655.80,329.73 L657.30,331.04 L658.80,332.35 L660.30,333.66 L661.80,334.98 L663.30,336.31 L664.80,337.63 L666.30,338.96 L667.80,340.30 L669.30,341.64 L670.80,342.98 L672.30,344.33 L673.80,345.68 L675.30,347.04 L676.80,348.40 L678.30,349.76 L679.80,351.13 L681.30,352.50 L682.80,353.88 L684.30,355.26 L685.80,356.65 L687.30,358.04 L688.80,359.43 L690.30,360.83 L691.80,362.23 L693.30,363.63 L694.80,365.04 L696.30,366.46 L697.80,367.88 L699.30,369.30 L700.80,370.72 L702.30,372.16 L703.80,373.59 L705.30,375.03 L706.80,376.47 L708.30,377.92 L709.80,379.37 L711.30,380.83 L712.80,382.29 L714.30,383.75 L715.80,385.22 L717.30,386.70 L718.80,388.17 L720.30,389.66 L721.80,391.14 L723.30,392.63 L724.80,394.13 L726.30,395.62 L727.80,397.13 L729.30,398.63 L730.80,400.15 L732.30,401.66 L733.80,403.18 L735.30,404.71 L736.80,406.24 L738.30,407.77 L739.80,409.31 L741.30,410.85 L742.80,412.39 L744.30,413.94 L745.80,415.50 L747.30,417.06 L748.80,418.62 L750.30,420.19 L751.80,421.76 L753.30,423.34 L754.80,424.92 L756.30,426.50 L757.80,428.09 L759.30,429.69 L760.80,431.29 L762.30,432.89 L763.80,434.50 L765.30,436.11 L766.80,437.72 L768.30,439.34 L769.80,440.97 L771.30,442.60 L772.80,444.23 L774.30,445.87 L775.80,447.51 L777.30,449.16 L778.80,450.81 L780.30,452.47 L781.80,454.13 L783.30,455.79 L784.80,457.46 L786.30,459.13 L787.80,460.81 L789.30,462.49 L790.80,464.18 L792.30,465.87 L793.80,467.57 L795.30,469.27 L796.80,470.98 L798.30,472.68 L799.80,474.40 L801.30,476.12 L802.80,477.84 L804.30,479.57 L805.80,481.30 L807.30,483.04 L808.80,484.78 L810.30,486.52 L811.80,488.28 L813.30,490.03 L814.80,491.79 L816.30,493.55 L817.80,495.32 L819.30,497.10 L820.80,498.87 L822.30,500.66 L823.80,502.44 L825.30,504.24 L826.80,506.03 L828.30,507.83 L829.80,509.64 L831.30,511.45 L832.80,513.26 L834.30,515.08 L835.80,516.91 L837.30,518.74 L838.80,520.57 L840.30,522.41 L841.80,524.25 L843.30,526.10 L844.80,527.95 L846.30,529.81 L847.80,531.67 L849.30,533.54 L850.80,535.41 L852.30,537.28 L853.80,539.17 L855.30,541.05 L856.80,542.94 L858.30,544.84 L859.80,546.74 L861.30,548.64 L862.80,550.55 L864.30,552.46 L865.80,554.38 L867.30,556.30 L868.80,558.23 L870.30,560.17 L871.80,562.10 L873.30,564.05 L874.80,565.99 L876.30,567.95 L877.80,569.90 L879.30,571.87 L880.80,573.83 L882.30,575.81 L883.80,577.78 L885.30,579.76 L886.80,581.75 L888.30,583.74 L889.80,585.74 L891.30,587.74 L892.80,589.75 L894.30,591.76 L895.80,593.77 L897.30,595.79 L898.80,597.82 L900.30,599.85 L901.80,601.89 L903.30,603.93 L904.80,605.98 L906.30,608.03 L907.80,610.08 L909.00,611.73" stroke="#D95319" stroke-width="4.5" stroke-dasharray="17.8 16.92"/>
<path d="M105.30,79.59 L106.80,79.53 L108.30,79.47 L109.80,79.43 L111.30,79.38 L112.80,79.34 L114.30,79.31 L115.80,79.28 L117.30,79.26 L118.80,79.25 L120.30,79.23 L121.80,79.23 L123.30,79.23 L124.80,79.23 L126.30,79.24 L127.80,79.25 L129.30,79.27 L130.80,79.30 L132.30,79.33 L133.80,79.36 L135.30,79.40 L136.80,79.45 L138.30,79.50 L139.80,79.55 L141.30,79.61 L142.80,79.67 L144.30,79.74 L145.80,79.82 L147.30,79.89 L148.80,79.98 L150.30,80.07 L151.80,80.16 L153.30,80.25 L154.80,80.36 L156.30,80.46 L157.80,80.57 L159.30,80.69 L160.80,80.81 L162.30,80.93 L163.80,81.06 L165.30,81.20 L166.80,81.33 L168.30,81.48 L169.80,81.62 L171.30,81.77 L172.80,81.93 L174.30,82.09 L175.80,82.25 L177.30,82.42 L178.80,82.59 L180.30,82.77 L181.80,82.95 L183.30,83.14 L184.80,83.33 L186.30,83.52 L187.80,83.72 L189.30,83.92 L190.80,84.12 L192.30,84.33 L193.80,84.55 L195.30,84.77 L196.80,84.99 L198.30,85.22 L199.80,85.45 L201.30,85.68 L202.80,85.92 L204.30,86.16 L205.80,86.41 L207.30,86.66 L208.80,86.91 L210.30,87.17 L211.80,87.43 L213.30,87.70 L214.80,87.97 L216.30,88.24 L217.80,88.52 L219.30,88.80 L220.80,89.08 L222.30,89.37 L223.80,89.66 L225.30,89.96 L226.80,90.26 L228.30,90.56 L229.80,90.87 L231.30,91.18 L232.80,91.49 L234.30,91.81 L235.80,92.14 L237.30,92.46 L238.80,92.79 L240.30,93.12 L241.80,93.46 L243.30,93.80 L244.80,94.14 L246.30,94.49 L247.80,94.84 L249.30,95.20 L250.80,95.55 L252.30,95.92 L253.80,96.28 L255.30,96.65 L256.80,97.02 L258.30,97.40 L259.80,97.78 L261.30,98.16 L262.80,98.55 L264.30,98.94 L265.80,99.33 L267.30,99.73 L268.80,100.13 L270.30,100.53 L271.80,100.94 L273.30,101.35 L274.80,101.76 L276.30,102.18 L277.80,102.60 L279.30,103.03 L280.80,103.45 L282.30,103.88 L283.80,104.32 L285.30,104.76 L286.80,105.20 L288.30,105.64 L289.80,106.09 L291.30,106.54 L292.80,107.00 L294.30,107.46 L295.80,107.92 L297.30,108.38 L298.80,108.85 L300.30,109.32 L301.80,109.80 L303.30,110.27 L304.80,110.76 L306.30,111.24 L307.80,111.73 L309.30,112.22 L310.80,112.72 L312.30,113.21 L313.80,113.71 L315.30,114.22 L316.80,114.73 L318.30,115.24 L319.80,115.75 L321.30,116.27 L322.80,116.79 L324.30,117.32 L325.80,117.85 L327.30,118.38 L328.80,118.91 L330.30,119.45 L331.80,119.99 L333.30,120.53 L334.80,121.08 L336.30,121.63 L337.80,122.19 L339.30,122.74 L340.80,123.30 L342.30,123.87 L343.80,124.43 L345.30,125.01 L346.80,125.58 L348.30,126.16 L349.80,126.74 L351.30,127.32 L352.80,127.91 L354.30,128.50 L355.80,129.09 L357.30,129.69 L358.80,130.29 L360.30,130.89 L361.80,131.50 L363.30,132.11 L364.80,132.72 L366.30,133.33 L367.80,133.95 L369.30,134.58 L370.80,135.20 L372.30,135.83 L373.80,136.46 L375.30,137.10 L376.80,137.74 L378.30,138.38 L379.80,139.03 L381.30,139.68 L382.80,140.33 L384.30,140.98 L385.80,141.64 L387.30,142.30 L388.80,142.97 L390.30,143.64 L391.80,144.31 L393.30,144.99 L394.80,145.66 L396.30,146.35 L397.80,147.03 L399.30,147.72 L400.80,148.41 L402.30,149.11 L403.80,149.80 L405.30,150.51 L406.80,151.21 L408.30,151.92 L409.80,152.63 L411.30,153.35 L412.80,154.06 L414.30,154.79 L415.80,155.51 L417.30,156.24 L418.80,156.97 L420.30,157.70 L421.80,158.44 L423.30,159.18 L424.80,159.93 L426.30,160.68 L427.80,161.43 L429.30,162.18 L430.80,162.94 L432.30,163.70 L433.80,164.47 L435.30,165.24 L436.80,166.01 L438.30,166.79 L439.80,167.56 L441.30,168.35 L442.80,169.13 L444.30,169.92 L445.80,170.71 L447.30,171.51 L448.80,172.31 L450.30,173.11 L451.80,173.92 L453.30,174.72 L454.80,175.54 L456.30,176.35 L457.80,177.17 L459.30,178.00 L460.80,178.82 L462.30,179.65 L463.80,180.49 L465.30,181.32 L466.80,182.16 L468.30,183.01 L469.80,183.85 L471.30,184.70 L472.80,185.56 L474.30,186.42 L475.80,187.28 L477.30,188.14 L478.80,189.01 L480.30,189.88 L481.80,190.76 L483.30,191.63 L484.80,192.52 L486.30,193.40 L487.80,194.29 L489.30,195.18 L490.80,196.08 L492.30,196.98 L493.80,197.88 L495.30,198.79 L496.80,199.70 L498.30,200.61 L499.80,201.53 L501.30,202.45 L502.80,203.38 L504.30,204.31 L505.80,205.24 L507.30,206.17 L508.80,207.11 L510.30,208.05 L511.80,209.00 L513.30,209.95 L514.80,210.90 L516.30,211.86 L517.80,212.82 L519.30,213.79 L520.80,214.75 L522.30,215.72 L523.80,216.70 L525.30,217.68 L526.80,218.66 L528.30,219.65 L529.80,220.64 L531.30,221.63 L532.80,222.63 L534.30,223.63 L535.80,224.63 L537.30,225.64 L538.80,226.65 L540.30,227.67 L541.80,228.69 L543.30,229.71 L544.80,230.74 L546.30,231.77 L547.80,232.80 L549.30,233.84 L550.80,234.88 L552.30,235.93 L553.80,236.98 L555.30,238.03 L556.80,239.08 L558.30,240.14 L559.80,241.21 L561.30,242.28 L562.80,243.35 L564.30,244.42 L565.80,245.50 L567.30,246.59 L568.80,247.67 L570.30,248.76 L571.80,249.86 L573.30,250.96 L574.80,252.06 L576.30,253.16 L577.80,254.27 L579.30,255.39 L580.80,256.50 L582.30,257.63 L583.80,258.75 L585.30,259.88 L586.80,261.01 L588.30,262.15 L589.80,263.29 L591.30,264.43 L592.80,265.58 L594.30,266.73 L595.80,267.89 L597.30,269.05 L598.80,270.21 L600.30,271.38 L601.80,272.55 L603.30,273.73 L604.80,274.91 L606.30,276.09 L607.80,277.28 L609.30,278.47 L610.80,279.66 L612.30,280.86 L613.80,282.07 L615.30,283.27 L616.80,284.49 L618.30,285.70 L619.80,286.92 L621.30,288.14 L622.80,289.37 L624.30,290.60 L625.80,291.83 L627.30,293.07 L628.80,294.32 L630.30,295.56 L631.80,296.81 L633.30,298.07 L634.80,299.33 L636.30,300.59 L637.80,301.86 L639.30,303.13 L640.80,304.40 L642.30,305.68 L643.80,306.97 L645.30,308.25 L646.80,309.55 L648.30,310.84 L649.80,312.14 L651.30,313.44 L652.80,314.75 L654.30,316.06 L655.80,317.38 L657.30,318.70 L658.80,320.02 L660.30,321.35 L661.80,322.68 L663.30,324.02 L664.80,325.36 L666.30,326.70 L667.80,328.05 L669.30,329.41 L670.80,330.76 L672.30,332.12 L673.80,333.49 L675.30,334.86 L676.80,336.23 L678.30,337.61 L679.80,338.99 L681.30,340.38 L682.80,341.77 L684.30,343.16 L685.80,344.56 L687.30,345.97 L688.80,347.37 L690.30,348.78 L691.80,350.20 L693.30,351.62 L694.80,353.04 L696.30,354.47 L697.80,355.90 L699.30,357.34 L700.80,358.78 L702.30,360.23 L703.80,361.68 L705.30,363.13 L706.80,364.59 L708.30,366.05 L709.80,367.51 L711.30,368.99 L712.80,370.46 L714.30,371.94 L715.80,373.42 L717.30,374.91 L718.80,376.40 L720.30,377.90 L721.80,379.40 L723.30,380.91 L724.80,382.41 L726.30,383.93 L727.80,385.45 L729.30,386.97 L730.80,388.49 L732.30,390.03 L733.80,391.56 L735.30,393.10 L736.80,394.64 L738.30,396.19 L739.80,397.75 L741.30,399.30 L742.80,400.86 L744.30,402.43 L745.80,404.00 L747.30,405.57 L748.80,407.15 L750.30,408.74 L751.80,410.32 L753.30,411.92 L754.80,413.51 L756.30,415.11 L757.80,416.72 L759.30,418.33 L760.80,419.94 L762.30,421.56 L763.80,423.19 L765.30,424.81 L766.80,426.44 L768.30,428.08 L769.80,429.72 L771.30,431.37 L772.80,433.02 L774.30,434.67 L775.80,436.33 L777.30,437.99 L778.80,439.66 L780.30,441.33 L781.80,443.01 L783.30,444.69 L784.80,446.38 L786.30,448.07 L787.80,449.76 L789.30,451.46 L790.80,453.17 L792.30,454.87 L793.80,456.59 L795.30,458.31 L796.80,460.03 L798.30,461.75 L799.80,463.49 L801.30,465.22 L802.80,466.96 L804.30,468.71 L805.80,470.46 L807.30,472.21 L808.80,473.97 L810.30,475.73 L811.80,477.50 L813.30,479.27 L814.80,481.05 L816.30,482.83 L817.80,484.62 L819.30,486.41 L820.80,488.20 L822.30,490.00 L823.80,491.81 L825.30,493.62 L826.80,495.43 L828.30,497.25 L829.80,499.08 L831.30,500.90 L832.80,502.74 L834.30,504.57 L835.80,506.42 L837.30,508.26 L838.80,510.12 L840.30,511.97 L841.80,513.83 L843.30,515.70 L844.80,517.57 L846.30,519.45 L847.80,521.33 L849.30,523.21 L850.80,525.10 L852.30,527.00 L853.80,528.90 L855.30,530.80 L856.80,532.71 L858.30,534.62 L859.80,536.54 L861.30,538.46 L862.80,540.39 L864.30,542.32 L865.80,544.26 L867.30,546.21 L868.80,548.15 L870.30,550.11 L871.80,552.06 L873.30,554.02 L874.80,555.99 L876.30,557.96 L877.80,559.94 L879.30,561.92 L880.80,563.91 L882.30,565.90 L883.80,567.90 L885.30,569.90 L886.80,571.90 L888.30,573.92 L889.80,575.93 L891.30,577.95 L892.80,579.98 L894.30,582.01 L895.80,584.05 L897.30,586.09 L898.80,588.13 L900.30,590.19 L901.80,592.24 L903.30,594.30 L904.80,596.37 L906.30,598.44 L907.80,600.52 L909.00,602.18" stroke="#D95319" stroke-width="4.5" stroke-dasharray="17.8 16.92"/>
<path d="M105.30,58.70 L106.80,58.64 L108.30,58.58 L109.80,58.53 L111.30,58.49 L112.80,58.45 L114.30,58.42 L115.80,58.39 L117.30,58.37 L118.80,58.35 L120.30,58.34 L121.80,58.33 L123.30,58.33 L124.80,58.33 L126.30,58.34 L127.80,58.36 L129.30,58.38 L130.80,58.40 L132.30,58.43 L133.80,58.47 L135.30,58.51 L136.80,58.55 L138.30,58.60 L139.80,58.66 L141.30,58.72 L142.80,58.78 L144.30,58.85 L145.80,58.93 L147.30,59.01 L148.80,59.09 L150.30,59.18 L151.80,59.27 L153.30,59.37 L154.80,59.47 L156.30,59.58 L157.80,59.69 L159.30,59.81 L160.80,59.93 L162.30,60.06 L163.80,60.19 L165.30,60.32 L166.80,60.46 L168.30,60.61 L169.80,60.76 L171.30,60.91 L172.80,61.07 L174.30,61.23 L175.80,61.39 L177.30,61.56 L178.80,61.74 L180.30,61.92 L181.80,62.10 L183.30,62.29 L184.80,62.48 L186.30,62.68 L187.80,62.88 L189.30,63.08 L190.80,63.29 L192.30,63.50 L193.80,63.72 L195.30,63.94 L196.80,64.16 L198.30,64.39 L199.80,64.63 L201.30,64.86 L202.80,65.11 L204.30,65.35 L205.80,65.60 L207.30,65.85 L208.80,66.11 L210.30,66.37 L211.80,66.64 L213.30,66.91 L214.80,67.18 L216.30,67.46 L217.80,67.74 L219.30,68.02 L220.80,68.31 L222.30,68.60 L223.80,68.90 L225.30,69.20 L226.80,69.50 L228.30,69.81 L229.80,70.12 L231.30,70.43 L232.80,70.75 L234.30,71.07 L235.80,71.40 L237.30,71.73 L238.80,72.06 L240.30,72.40 L241.80,72.74 L243.30,73.09 L244.80,73.43 L246.30,73.79 L247.80,74.14 L249.30,74.50 L250.80,74.86 L252.30,75.23 L253.80,75.60 L255.30,75.97 L256.80,76.35 L258.30,76.73 L259.80,77.11 L261.30,77.50 L262.80,77.89 L264.30,78.29 L265.80,78.69 L267.30,79.09 L268.80,79.49 L270.30,79.90 L271.80,80.31 L273.30,80.73 L274.80,81.15 L276.30,81.57 L277.80,82.00 L279.30,82.43 L280.80,82.86 L282.30,83.30 L283.80,83.74 L285.30,84.18 L286.80,84.63 L288.30,85.08 L289.80,85.53 L291.30,85.99 L292.80,86.45 L294.30,86.91 L295.80,87.38 L297.30,87.85 L298.80,88.32 L300.30,88.80 L301.80,89.28 L303.30,89.77 L304.80,90.25 L306.30,90.75 L307.80,91.24 L309.30,91.74 L310.80,92.24 L312.30,92.74 L313.80,93.25 L315.30,93.76 L316.80,94.28 L318.30,94.79 L319.80,95.32 L321.30,95.84 L322.80,96.37 L324.30,96.90 L325.80,97.43 L327.30,97.97 L328.80,98.51 L330.30,99.06 L331.80,99.60 L333.30,100.16 L334.80,100.71 L336.30,101.27 L337.80,101.83 L339.30,102.39 L340.80,102.96 L342.30,103.53 L343.80,104.11 L345.30,104.68 L346.80,105.26 L348.30,105.85 L349.80,106.44 L351.30,107.03 L352.80,107.62 L354.30,108.22 L355.80,108.82 L357.30,109.42 L358.80,110.03 L360.30,110.64 L361.80,111.25 L363.30,111.87 L364.80,112.49 L366.30,113.12 L367.80,113.74 L369.30,114.37 L370.80,115.01 L372.30,115.65 L373.80,116.29 L375.30,116.93 L376.80,117.58 L378.30,118.23 L379.80,118.88 L381.30,119.54 L382.80,120.20 L384.30,120.86 L385.80,121.53 L387.30,122.20 L388.80,122.87 L390.30,123.55 L391.80,124.23 L393.30,124.91 L394.80,125.60 L396.30,126.29 L397.80,126.98 L399.30,127.68 L400.80,128.38 L402.30,129.09 L403.80,129.79 L405.30,130.50 L406.80,131.22 L408.30,131.93 L409.80,132.65 L411.30,133.38 L412.80,134.11 L414.30,134.84 L415.80,135.57 L417.30,136.31 L418.80,137.05 L420.30,137.79 L421.80,138.54 L423.30,139.29 L424.80,140.05 L426.30,140.80 L427.80,141.56 L429.30,142.33 L430.80,143.10 L432.30,143.87 L433.80,144.64 L435.30,145.42 L436.80,146.20 L438.30,146.99 L439.80,147.78 L441.30,148.57 L442.80,149.36 L444.30,150.16 L445.80,150.96 L447.30,151.77 L448.80,152.58 L450.30,153.39 L451.80,154.21 L453.30,155.03 L454.80,155.85 L456.30,156.68 L457.80,157.51 L459.30,158.34 L460.80,159.18 L462.30,160.02 L463.80,160.86 L465.30,161.71 L466.80,162.56 L468.30,163.41 L469.80,164.27 L471.30,165.13 L472.80,166.00 L474.30,166.86 L475.80,167.74 L477.30,168.61 L478.80,169.49 L480.30,170.37 L481.80,171.26 L483.30,172.15 L484.80,173.04 L486.30,173.94 L487.80,174.84 L489.30,175.74 L490.80,176.65 L492.30,177.56 L493.80,178.48 L495.30,179.39 L496.80,180.32 L498.30,181.24 L499.80,182.17 L501.30,183.10 L502.80,184.04 L504.30,184.98 L505.80,185.92 L507.30,186.87 L508.80,187.82 L510.30,188.77 L511.80,189.73 L513.30,190.69 L514.80,191.66 L516.30,192.63 L517.80,193.60 L519.30,194.58 L520.80,195.56 L522.30,196.54 L523.80,197.53 L525.30,198.52 L526.80,199.51 L528.30,200.51 L529.80,201.51 L531.30,202.52 L532.80,203.53 L534.30,204.54 L535.80,205.56 L537.30,206.58 L538.80,207.61 L540.30,208.63 L541.80,209.67 L543.30,210.70 L544.80,211.74 L546.30,212.78 L547.80,213.83 L549.30,214.88 L550.80,215.94 L552.30,217.00 L553.80,218.06 L555.30,219.12 L556.80,220.19 L558.30,221.27 L559.80,222.34 L561.30,223.43 L562.80,224.51 L564.30,225.60 L565.80,226.69 L567.30,227.79 L568.80,228.89 L570.30,229.99 L571.80,231.10 L573.30,232.21 L574.80,233.33 L576.30,234.45 L577.80,235.57 L579.30,236.70 L580.80,237.83 L582.30,238.97 L583.80,240.11 L585.30,241.25 L586.80,242.40 L588.30,243.55 L589.80,244.70 L591.30,245.86 L592.80,247.02 L594.30,248.19 L595.80,249.36 L597.30,250.53 L598.80,251.71 L600.30,252.90 L601.80,254.08 L603.30,255.27 L604.80,256.47 L606.30,257.66 L607.80,258.87 L609.30,260.07 L610.80,261.28 L612.30,262.50 L613.80,263.72 L615.30,264.94 L616.80,266.16 L618.30,267.39 L619.80,268.63 L621.30,269.87 L622.80,271.11 L624.30,272.36 L625.80,273.61 L627.30,274.86 L628.80,276.12 L630.30,277.38 L631.80,278.65 L633.30,279.92 L634.80,281.19 L636.30,282.47 L637.80,283.75 L639.30,285.04 L640.80,286.33 L642.30,287.63 L643.80,288.93 L645.30,290.23 L646.80,291.54 L648.30,292.85 L649.80,294.17 L651.30,295.49 L652.80,296.81 L654.30,298.14 L655.80,299.47 L657.30,300.81 L658.80,302.15 L660.30,303.49 L661.80,304.84 L663.30,306.19 L664.80,307.55 L666.30,308.91 L667.80,310.28 L669.30,311.65 L670.80,313.02 L672.30,314.40 L673.80,315.78 L675.30,317.17 L676.80,318.56 L678.30,319.96 L679.80,321.36 L681.30,322.76 L682.80,324.17 L684.30,325.58 L685.80,326.99 L687.30,328.41 L688.80,329.84 L690.30,331.27 L691.80,332.70 L693.30,334.14 L694.80,335.58 L696.30,337.03 L697.80,338.48 L699.30,339.93 L700.80,341.39 L702.30,342.85 L703.80,344.32 L705.30,345.79 L706.80,347.27 L708.30,348.75 L709.80,350.24 L711.30,351.72 L712.80,353.22 L714.30,354.72 L715.80,356.22 L717.30,357.72 L718.80,359.23 L720.30,360.75 L721.80,362.27 L723.30,363.79 L724.80,365.32 L726.30,366.85 L727.80,368.39 L729.30,369.93 L730.80,371.48 L732.30,373.03 L733.80,374.58 L735.30,376.14 L736.80,377.70 L738.30,379.27 L739.80,380.84 L741.30,382.42 L742.80,384.00 L744.30,385.59 L745.80,387.18 L747.30,388.77 L748.80,390.37 L750.30,391.97 L751.80,393.58 L753.30,395.19 L754.80,396.81 L756.30,398.43 L757.80,400.06 L759.30,401.69 L760.80,403.32 L762.30,404.96 L763.80,406.60 L765.30,408.25 L766.80,409.90 L768.30,411.56 L769.80,413.22 L771.30,414.89 L772.80,416.56 L774.30,418.23 L775.80,419.91 L777.30,421.60 L778.80,423.29 L780.30,424.98 L781.80,426.68 L783.30,428.38 L784.80,430.09 L786.30,431.80 L787.80,433.52 L789.30,435.24 L790.80,436.96 L792.30,438.69 L793.80,440.43 L795.30,442.16 L796.80,443.91 L798.30,445.66 L799.80,447.41 L801.30,449.17 L802.80,450.93 L804.30,452.70 L805.80,454.47 L807.30,456.24 L808.80,458.02 L810.30,459.81 L811.80,461.60 L813.30,463.39 L814.80,465.19 L816.30,467.00 L817.80,468.81 L819.30,470.62 L820.80,472.44 L822.30,474.26 L823.80,476.09 L825.30,477.92 L826.80,479.76 L828.30,481.60 L829.80,483.45 L831.30,485.30 L832.80,487.15 L834.30,489.01 L835.80,490.88 L837.30,492.75 L838.80,494.63 L840.30,496.51 L841.80,498.39 L843.30,500.28 L844.80,502.17 L846.30,504.07 L847.80,505.98 L849.30,507.88 L850.80,509.80 L852.30,511.72 L853.80,513.64 L855.30,515.57 L856.80,517.50 L858.30,519.44 L859.80,521.38 L861.30,523.33 L862.80,525.28 L864.30,527.24 L865.80,529.20 L867.30,531.17 L868.80,533.14 L870.30,535.12 L871.80,537.10 L873.30,539.08 L874.80,541.08 L876.30,543.07 L877.80,545.07 L879.30,547.08 L880.80,549.09 L882.30,551.11 L883.80,553.13 L885.30,555.16 L886.80,557.19 L888.30,559.23 L889.80,561.27 L891.30,563.31 L892.80,565.36 L894.30,567.42 L895.80,569.48 L897.30,571.55 L898.80,573.62 L900.30,575.70 L901.80,577.78 L903.30,579.87 L904.80,581.96 L906.30,584.06 L907.80,586.16 L909.00,587.85" stroke="#D95319" stroke-width="4.5" stroke-dasharray="17.8 16.92"/>
</g>
<text class="tk" x="97" y="15.60" text-anchor="end">2.2</text>
<text class="tk" x="97" y="77.03" text-anchor="end">2.1</text>
<text class="tk" x="97" y="138.46" text-anchor="end">2</text>
<text class="tk" x="97" y="199.89" text-anchor="end">1.9</text>
<text class="tk" x="97" y="261.32" text-anchor="end">1.8</text>
<text class="tk" x="97" y="322.75" text-anchor="end">1.7</text>
<text class="tk" x="97" y="384.18" text-anchor="end">1.6</text>
<text class="tk" x="97" y="445.21" text-anchor="end">1.5</text>
<text class="tk" x="97" y="507.04" text-anchor="end">1.4</text>
<text class="tk" x="97" y="568.47" text-anchor="end">1.3</text>
<text class="tk" x="97" y="629.90" text-anchor="end">1.2</text>
<text class="tk" x="105.60" y="651.1" text-anchor="middle">0</text>
<text class="tk" x="239.23" y="651.1" text-anchor="middle">20</text>
<text class="tk" x="372.87" y="651.1" text-anchor="middle">40</text>
<text class="tk" x="506.50" y="651.1" text-anchor="middle">60</text>
<text class="tk" x="640.14" y="651.1" text-anchor="middle">80</text>
<text class="tk" x="773.77" y="651.1" text-anchor="middle">100</text>
<text class="tk" x="907.40" y="651.1" text-anchor="middle">120</text>
<text class="ax" x="535.5" y="700.3" text-anchor="middle">x in degrees</text>
<text class="ax" transform="translate(33.2,355) rotate(-90)" x="0" y="0">Gr<tspan dy="-15" style="font-size:25.7px">-1/4</tspan><tspan dy="15">Nu</tspan></text>
<text class="lb" x="695.2" y="156">M <tspan class="op">=</tspan> K <tspan class="op">=</tspan> L <tspan class="op">=</tspan> 1</text>
<text transform="translate(155.3,271.4) scale(1.04,1)" style="font-family:'DejaVu Sans','Liberation Serif',serif;font-weight:normal;font-style:italic;font-size:25.5px;stroke:none">χ</text>
<text class="lb" x="180.5" y="271.2" style="font-size:28.9px"><tspan class="op">=</tspan> 0.015, 0.03, 0.06</text>
<text class="lb" x="156.2" y="454.6" style="font-size:29.05px">Al<tspan dy="13.3" style="font-size:23.3px">2</tspan><tspan dy="-13.3">O</tspan><tspan dy="13.3" style="font-size:23.3px">3</tspan><tspan dy="-13.3"> </tspan><tspan class="op">+</tspan> Cu <tspan class="op">+</tspan> MWCNT/KO</text>
<text class="lb" x="155.0" y="514.0" style="font-size:29.05px">Al<tspan dy="13.3" style="font-size:23.3px">2</tspan><tspan dy="-13.3">O</tspan><tspan dy="13.3" style="font-size:23.3px">3</tspan><tspan dy="-13.3"> </tspan><tspan class="op">+</tspan> Cu <tspan class="op">+</tspan> Graphene/KO</text>
<line x1="521.5" y1="449.1" x2="609" y2="449.1" stroke="#D95319" stroke-width="4.5" stroke-dasharray="17.8 16.92"/>
<rect x="519.1" y="503.3" width="53" height="4.9" fill="#0072BD"/><rect x="572" y="503.85" width="41.3" height="4.35" fill="#0072BD"/>
<line x1="399.7" y1="243.7" x2="501.66" y2="119.75" stroke="#00FF00" stroke-width="4.5"/>
<polygon points="509.6,110.1 504.50,125.59 501.66,119.75 495.39,118.09" fill="#00FF00"/>
<text class="lb" style="font-size:29.17px;stroke:none" transform="translate(738.33,156.70) scale(1.15,1)" text-anchor="middle">=</text>
<text class="lb" style="font-size:29.17px;stroke:none" transform="translate(792.22,156.70) scale(1.15,1)" text-anchor="middle">=</text>
<text class="lb" style="font-size:29.17px;stroke:none" transform="translate(841.26,156.70) scale(1.15,1)" text-anchor="middle">=</text>
<text class="lb" style="font-size:28.9px;stroke:none" transform="translate(188.73,271.90) scale(1.15,1)" text-anchor="middle">=</text>
<text class="lb" style="font-size:29.05px;stroke:none" transform="translate(247.52,455.60) scale(1.15,1.06)" text-anchor="middle">+</text>
<text class="lb" style="font-size:29.05px;stroke:none" transform="translate(315.73,455.60) scale(1.15,1.06)" text-anchor="middle">+</text>
<text class="lb" style="font-size:29.05px;stroke:none" transform="translate(246.32,515.00) scale(1.15,1.06)" text-anchor="middle">+</text>
<text class="lb" style="font-size:29.05px;stroke:none" transform="translate(314.53,515.00) scale(1.15,1.06)" text-anchor="middle">+</text>
</svg></body></html>
